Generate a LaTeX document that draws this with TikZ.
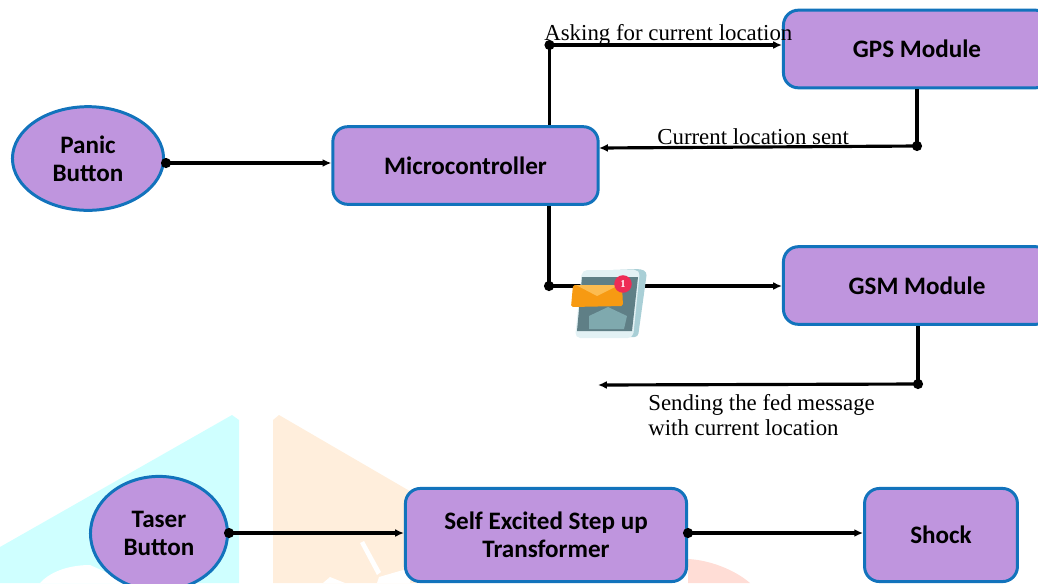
\documentclass[tikz,border=0pt]{standalone}
\usepackage{fontspec}
\setmainfont{Liberation Serif}
\newfontfamily\boxfont{Carlito}[BoldFont={Carlito Bold}]
\usetikzlibrary{shapes.geometric, arrows.meta}

\definecolor{boxfill}{HTML}{BF95DE}
\definecolor{boxline}{HTML}{1273BC}
\definecolor{markcyan}{HTML}{CFFFFF}
\definecolor{markorange}{HTML}{FFEEDC}
\definecolor{markpink}{HTML}{FFDDD6}
\definecolor{phoneback}{HTML}{A9CFD6}
\definecolor{phoneface}{HTML}{E2F1F4}
\definecolor{phonescreen}{HTML}{5F7F86}
\definecolor{phonemail}{HTML}{7FA9AE}
\definecolor{mailbody}{HTML}{F79A12}
\definecolor{mailflap}{HTML}{FCBC50}
\definecolor{mailbadge}{HTML}{EE2C55}
\tikzset{
    block/.style={draw=boxline, fill=boxfill, line width=1.7pt, rounded corners=8.5pt, minimum height=44.2pt, align=center, font=\boxfont\fontsize{14.3}{15.9}\selectfont\bfseries, inner sep=0pt},
    button/.style={block, ellipse, rounded corners=0pt},
    note/.style={font=\fontsize{13}{14}\selectfont, align=left, inner sep=0pt, anchor=base west},
    wire/.style={line width=1.8pt},
    flow/.style={wire, -{Latex[length=5pt, width=4.5pt]}},
    dot/.style={circle, fill=black, inner sep=0pt, minimum size=5.8pt}
}

\begin{document}
\begin{tikzpicture}[x=0.02cm, y=-0.02cm]
    \useasboundingbox (0, 0) rectangle (1038, 583);

    % watermark
    \fill[markcyan] (0, 547) -- (232, 415) -- (239, 420) -- (239, 583) -- (0, 583) -- cycle;
    \fill[white] (40, 583) .. controls (52, 570) and (72, 565) .. (90, 565) -- (130, 583) -- cycle;
    \fill[markorange] (273, 420) -- (279, 415) -- (420, 497) -- (420, 583) -- (273, 583) -- cycle;
    \fill[white] (360, 543) -- (364, 541) -- (381, 572) -- (377, 575) -- cycle;
    \fill[white] (323, 583) -- (330, 577) -- (345, 583) -- cycle;
    \fill[white] (377, 583) -- (379, 577) -- (410, 568) -- (410, 583) -- cycle;
    \fill[markpink] (688, 559) .. controls (710, 560) and (735, 570) .. (750, 583) -- (688, 583) -- cycle;

    % blocks
    \node[button, minimum width=86pt, minimum height=59pt] (panic) at (88, 158.5) {Panic\\Button};
    \node[block, minimum width=151pt] (micro) at (465.5, 165.5) {Microcontroller};
    \node[block, minimum width=152pt] (gps) at (917, 49) {GPS Module};
    \node[block, minimum width=152pt] (gsm) at (917, 285.5) {GSM Module};
    \node[button, minimum width=78pt, minimum height=65pt] (taser) at (159, 533.5) {Taser\\Button};
    \node[block, minimum width=160pt, minimum height=53pt] (trafo) at (546, 535) {Self Excited Step up\\Transformer};
    \node[block, minimum width=87pt, minimum height=53pt] (shock) at (941, 535) {Shock};

    % joints
    \node[dot] (panicdot) at (166, 163) {};
    \node[dot] (askdot) at (549.5, 45) {};
    \node[dot] (sentdot) at (917, 146) {};
    \node[dot] (msgdot) at (549, 286) {};
    \node[dot] (feddot) at (918, 384) {};
    \node[dot] (taserdot) at (229, 533) {};
    \node[dot] (trafodot) at (688, 533) {};
    \coordinate (sentend) at (599, 148);
    \coordinate (fedend) at (598, 385);

    % connectors
    \draw[flow] (panicdot.center) -- (panicdot -| micro.west);
    \draw[wire] (askdot |- micro.north) -- (askdot.center);
    \draw[flow] (askdot.center) -- (askdot -| gps.west);
    \draw[wire] (sentdot |- gps.south) -- (sentdot.center);
    \draw[flow] (sentdot.center) -- (sentend);
    \draw[wire] (msgdot |- micro.south) -- (msgdot.center);
    \draw[flow] (msgdot.center) -- (msgdot -| gsm.west);
    \draw[wire] (feddot |- gsm.south) -- (feddot.center);
    \draw[flow] (feddot.center) -- (fedend);
    \draw[flow] (taserdot.center) -- (taserdot -| trafo.west);
    \draw[flow] (trafodot.center) -- (trafodot -| shock.west);

    % labels
    \node[note] (asklabel) at (544, 40) {Asking for current location};
    \node[note] (sentlabel) at (657, 144) {Current location sent};
    \node[note, anchor=north west] (fedlabel) at (648, 394) {Sending the fed message\\with current location};

    % phone with mail
    \fill[phoneback, rounded corners=2pt] (585, 271) -- (641, 269) -- (647, 272) -- (638, 337) -- (580, 338) -- cycle;
    \fill[phoneface, rounded corners=3pt] (582, 270) -- (640, 270) -- (633, 338) -- (575, 338) -- cycle;
    \fill[phonescreen] (582, 277) -- (638, 277) -- (632, 331) -- (577, 331) -- cycle;
    \fill[phonemail] (589, 316) -- (589, 329) -- (624, 329) -- (627, 316) -- (608, 307) -- cycle;
    \fill[mailbody, rounded corners=1pt] (573, 285) -- (622, 285) -- (623, 306) -- (571, 307) -- cycle;
    \fill[mailflap] (576, 285) -- (619, 285) -- (597, 296) -- cycle;
    \node[circle, fill=mailbadge, inner sep=0pt, minimum size=10pt, text=white, font=\fontsize{6}{6}\selectfont\bfseries] (badge) at (623, 284) {1};
\end{tikzpicture}
\end{document}
